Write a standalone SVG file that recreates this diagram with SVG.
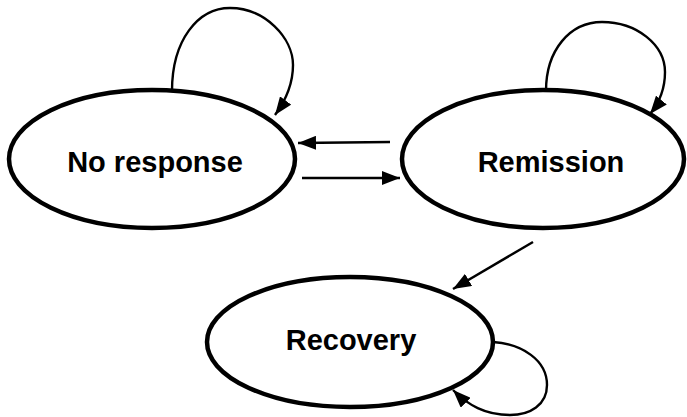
<svg xmlns="http://www.w3.org/2000/svg" width="687" height="417" viewBox="0 0 687 417">
<style>
.node{fill:#fff;stroke:#000;stroke-width:4.5}
.lbl{font-family:"Liberation Sans",Arial,sans-serif;font-weight:bold;font-size:29px;fill:#000;text-anchor:middle}
.edge{fill:none;stroke:#000;stroke-width:2.4;marker-end:url(#ah)}
</style>
<defs>
<marker id="ah" markerUnits="userSpaceOnUse" markerWidth="19" markerHeight="14" refX="18" refY="7" orient="auto">
<path d="M0,0 L18,7 L0,14 z" fill="#000"/>
</marker>
</defs>
<rect width="687" height="417" fill="#fff"/>
<g id="connectors">
<path class="edge" d="M172,91 C172,40 198,8 230,8 C265,8 293,38 293,65 C293,85 286,100 275,115"/>
<path class="edge" d="M546,91 C546,50 570,22 602,22 C637,22 665,45 665,72 C665,90 659,103 650,114"/>
<path class="edge" d="M493,342 C522,344 547,360 547,385 C547,405 530,415 510,415 C485,415 468,405 453,390"/>
<path class="edge" d="M390,142 L298,143"/>
<path class="edge" d="M302,178 L400,178"/>
<path class="edge" d="M533,242 L453,289"/>
</g>
<g id="no-response">
<ellipse class="node" cx="152" cy="159" rx="143" ry="69"/>
<text class="lbl" x="155" y="172">No response</text>
</g>
<g id="remission">
<ellipse class="node" cx="543" cy="159" rx="141" ry="69"/>
<text class="lbl" x="551" y="172">Remission</text>
</g>
<g id="recovery">
<ellipse class="node" cx="350" cy="342" rx="143" ry="65"/>
<text class="lbl" x="351" y="350">Recovery</text>
</g>
</svg>
